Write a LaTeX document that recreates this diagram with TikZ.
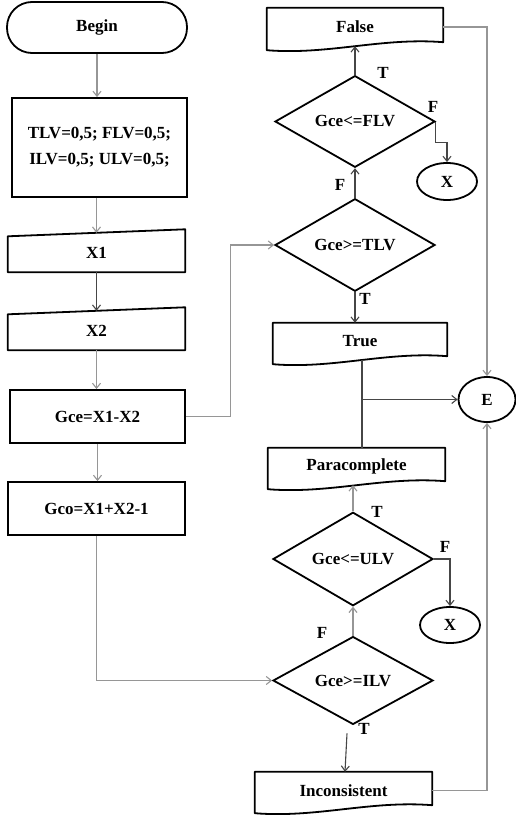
\documentclass[tikz,border=0pt]{standalone}
\usepackage{fontspec}
\setmainfont{Liberation Serif}
\usetikzlibrary{shapes.geometric,arrows.meta,calc}
\definecolor{lineg}{RGB}{150,150,150}
\definecolor{lined}{RGB}{70,70,70}
\begin{document}
\begin{tikzpicture}[x=1pt,y=-1pt,
  every node/.style={font=\fontsize{17}{26}\selectfont\bfseries, inner sep=0pt},
  outl/.style={draw=black, line width=1.8pt, line join=round},
  term/.style={draw=black, line width=1.8pt, rounded corners=25pt, minimum width=180pt, minimum height=51pt},
  procbox/.style={draw=black, line width=1.8pt, minimum width=175pt, align=center},
  shp/.style={draw=none, minimum width=177pt, minimum height=39pt},
  docbox/.style={draw=none, minimum width=177pt, minimum height=37pt},
  dec/.style={diamond, draw=black, line width=1.8pt, minimum width=160pt, minimum height=83pt},
  conncircle/.style={ellipse, draw=black, line width=1.8pt, minimum width=60pt, minimum height=37pt},
  conn/.style={draw=lineg, line width=1.1pt, -{Straight Barb[length=5pt,width=8pt]}},
  connd/.style={draw=lined, line width=1.1pt, -{Straight Barb[length=5pt,width=8pt]}},
  lab/.style={font=\fontsize{17}{20}\selectfont\bfseries}]
\useasboundingbox (0,0) rectangle (516,816);
\fill[white] (0,0) rectangle (516,816);

% left column
\node[term] (Begin) at (97,27.5) {Begin};
\node[procbox, minimum height=99pt] (Box) at (99.5,147.5) {TLV=0,5; FLV=0,5;\\ILV=0,5; ULV=0,5;};
\node[shp] (X1) at (96.5,252.5) {X1};
\node[shp] (X2) at (96.5,330.5) {X2};
\node[procbox, minimum height=53pt] (Gce) at (97.5,416.5) {Gce=X1-X2};
\node[procbox, minimum width=177pt, minimum height=53pt] (Gco) at (96.5,508.5) {Gco=X1+X2-1};

\foreach \n in {X1,X2}{
  \draw[outl] (\n.south west) -- ($(\n.north west)+(0,3.5)$) -- ($(\n.north east)+(0,-3.5)$) -- (\n.south east) -- cycle;
}

% right column
\node[docbox, minimum width=176pt, minimum height=38pt] (False) at (355,27) {False};
\node[dec] (FLV) at (355,121.5) {Gce<=FLV};
\node[conncircle] (Xa) at (447,181.5) {X};
\node[dec, minimum height=84pt] (TLV) at (355,245) {Gce>=TLV};
\node[docbox, minimum width=174pt] (True) at (360,341.5) {True};
\node[ellipse, draw=black, line width=1.8pt, minimum width=57pt, minimum height=45pt] (E) at (487,399.5) {E};
\node[docbox] (Para) at (356.5,466.5) {Paracomplete};
\node[dec, minimum height=82pt] (ULV) at (353,559) {Gce<=ULV};
\node[conncircle, minimum height=36pt] (Xb) at (450,625) {X};
\node[dec, minimum height=85pt] (ILV) at (353,680.5) {Gce>=ILV};
\node[docbox] (Inc) at (343.5,790.5) {Inconsistent};

\foreach \n in {False,True,Para,Inc}{
  \draw[outl] ($(\n.south west)+(0,4)$) -- (\n.north west) -- (\n.north east) -- ($(\n.south east)+(0,-4)$)
    .. controls ($(\n.south)+(27,-9)$) and ($(\n.south)+(-27,9)$) .. ($(\n.south west)+(0,4)$) -- cycle;
}

% connectors, left column
\draw[conn] (Begin.south) -- (Begin.south |- Box.north);
\draw[conn] (X1.south |- Box.south) -- (X1.north);
\draw[connd] (X1.south) -- (X2.north);
\draw[conn] (X2.south) -- (X2.south |- Gce.north);
\draw[conn] (Gce.south) -- (Gce.south |- Gco.north);
\draw[conn] (Gco.south) |- (ILV.west);
\draw[conn] (Gce.east) -- ++(45,0) |- (TLV.west);

% connectors, right column
\draw[connd] (TLV.north) -- (FLV.south);
\draw[connd] (FLV.north) -- (FLV.north |- False.south);
\draw[connd] (FLV.east) -- ++(0,21) -| (Xa.north);
\draw[conn] (False.east) -| (E.north);
\draw[connd] (TLV.south) -- (TLV.south |- True.north);
\coordinate (j) at (362,0);
\draw[draw=lined, line width=1.1pt] (j |- True.south) -- (j |- Para.north);
\draw[connd] (j |- E.west) -- (E.west);
\draw[conn] (ULV.north) -- (ULV.north |- Para.south);
\draw[connd] (ULV.east) -| (Xb.north);
\draw[conn] (ILV.north) -- (ULV.south);
\draw[connd] ($(ILV.south)+(-6,8)$) -- ($(ILV.south |- Inc.north)+(-8,0)$);
\draw[conn] (Inc.east) -| (E.south);

% labels
\node[lab] (tA) at (383,73) {T};
\node[lab] (fA) at (433,107) {F};
\node[lab] (fB) at (340,185) {F};
\node[lab] (tB) at (365,299) {T};
\node[lab] (tC) at (377,512) {T};
\node[lab] (fC) at (445,547) {F};
\node[lab] (fD) at (322,633) {F};
\node[lab] (tD) at (364,729) {T};
\end{tikzpicture}
\end{document}
